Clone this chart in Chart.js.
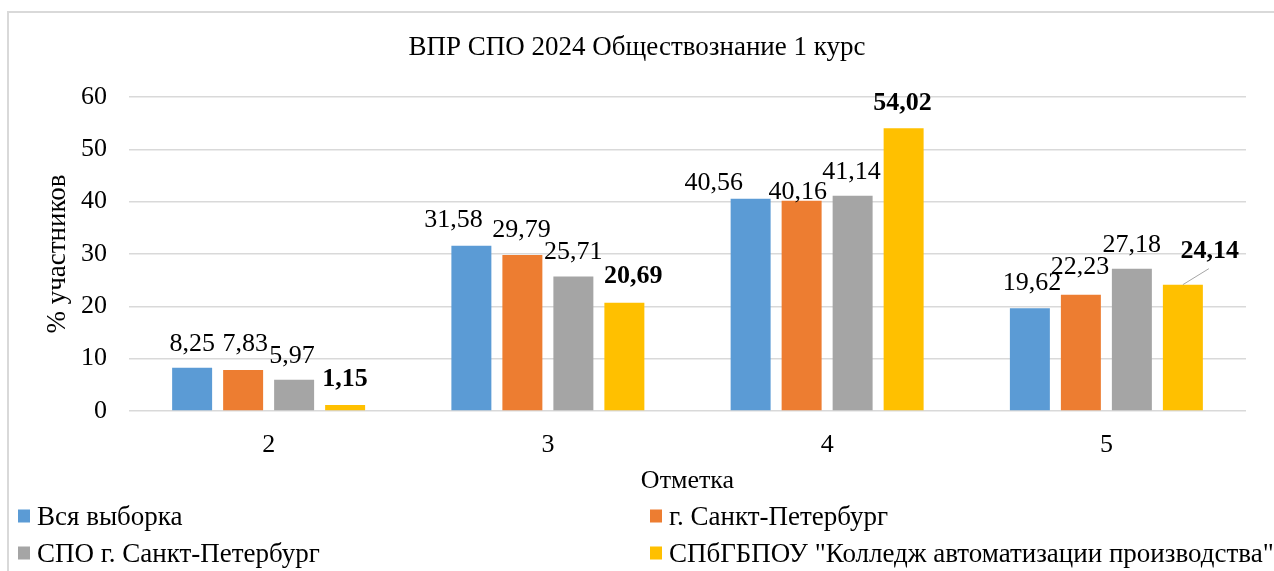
<!DOCTYPE html>
<html><head><meta charset="utf-8">
<script src="https://cdn.jsdelivr.net/npm/chart.js@4.4.1/dist/chart.umd.min.js"></script>
<style>
html,body{margin:0;padding:0;background:#fff;overflow:hidden;}
#wrap{position:relative;width:1274px;height:571px;overflow:hidden;}
#frame{position:absolute;left:7px;top:11px;width:1300px;height:620px;border:2px solid #d9d9d9;box-sizing:border-box;}
canvas{position:absolute;left:0;top:0;}
.leg{position:absolute;font-family:"Liberation Serif",serif;font-size:27px;color:#000;display:flex;align-items:center;white-space:nowrap;line-height:1;transform:translateY(-50%);}
.leg i{display:inline-block;width:12px;height:13px;margin-right:7px;}
</style></head>
<body><div id="wrap"><div id="frame"></div><canvas id="c" width="1274" height="571"></canvas><div id="legend"></div></div>
<script>
// ---- data ----
const categories = ['2', '3', '4', '5'];
const seriesNames = ['Вся выборка', 'г. Санкт-Петербург', 'СПО г. Санкт-Петербург', 'СПбГБПОУ "Колледж автоматизации производства"'];
const allSample = [8.25, 31.58, 40.56, 19.62];
const spbCity = [7.83, 29.79, 40.16, 22.23];
const spoSpb = [5.97, 25.71, 41.14, 27.18];
const college = [1.15, 20.69, 54.02, 24.14];
const yTickValues = [0, 10, 20, 30, 40, 50, 60];
const chartTitle = 'ВПР СПО 2024 Обществознание 1 курс';
const xTitle = 'Отметка';
const yTitle = '% участников';

// ---- styles ----
const colors = ['#5B9BD5', '#ED7D31', '#A5A5A5', '#FFC000'];
const boldSeries = [false, false, false, true];
const FONT = '"Liberation Serif", "Times New Roman", serif';
// label nudges [series][category] -> [dx, dy] in px (manual placements of the original)
const labelNudges = [
  [[0,0],[-18,-2],[-37,8],[2,-1]],
  [[2,-2],[-1,-1],[-4,15],[-1,-3]],
  [[-2,0],[0,0],[-1,0],[0,0]],
  [[0,-2],[9,-2],[-1,-1],[27,-9]]
];
const leaderLines = [[3,3]];

const seriesData = [allSample, spbCity, spoSpb, college];
const fmt = v => v.toFixed(2).replace('.', ',');

const labelPlugin = {
  id: 'barLabels',
  afterDatasetsDraw(chart) {
    const ctx = chart.ctx;
    ctx.save();
    chart.data.datasets.forEach((ds, si) => {
      const meta = chart.getDatasetMeta(si);
      meta.data.forEach((bar, ci) => {
        const [dx, dy] = labelNudges[si][ci];
        const lx = bar.x + dx, ly = bar.y - 24 + dy;
        if (leaderLines.some(([a, b]) => a === si && b === ci)) {
          ctx.strokeStyle = '#A5A5A5';
          ctx.lineWidth = 1;
          ctx.beginPath();
          ctx.moveTo(bar.x, bar.y);
          ctx.lineTo(lx - 1, ly + 17);
          ctx.stroke();
        }
        ctx.font = (boldSeries[si] ? 'bold ' : '') + '26px ' + FONT;
        ctx.fillStyle = '#000';
        ctx.textAlign = 'center';
        ctx.textBaseline = 'middle';
        ctx.fillText(fmt(ds.data[ci]), lx, ly);
      });
    });
    ctx.restore();
  }
};

const LEFT_PAD = 28;
new Chart(document.getElementById('c'), {
  type: 'bar',
  data: {
    labels: categories,
    datasets: seriesData.map((d, i) => ({
      label: seriesNames[i],
      data: d,
      backgroundColor: colors[i],
      borderWidth: 0,
      categoryPercentage: 0.7305,
      barPercentage: 0.784
    }))
  },
  options: {
    responsive: false,
    animation: false,
    devicePixelRatio: 1,
    layout: { padding: { left: LEFT_PAD, right: 28, top: 0, bottom: 70 } },
    plugins: {
      legend: { display: false },
      tooltip: { enabled: false },
      title: {
        display: true, text: chartTitle, color: '#000',
        font: { family: FONT, size: 27, weight: 'normal', lineHeight: 1.2 },
        padding: { top: 31.8, bottom: 32.8 }
      }
    },
    scales: {
      x: {
        grid: { display: false },
        border: { display: false },
        ticks: { color: '#000', font: { family: FONT, size: 26 }, padding: 11 },
        title: { display: true, text: xTitle, color: '#000', font: { family: FONT, size: 26, lineHeight: 1.2 }, padding: { top: 0, bottom: 4.4 } },
        afterFit(s) { s.height = 90; }
      },
      y: {
        min: 0, max: 60,
        afterBuildTicks(s) { s.ticks = yTickValues.map(v => ({ value: v })); },
        grid: { color: '#d9d9d9', lineWidth: 1.6, drawTicks: false },
        border: { display: false },
        ticks: { color: '#000', font: { family: FONT, size: 26 }, padding: 22 },
        title: { display: true, text: yTitle, color: '#000', font: { family: FONT, size: 27, lineHeight: 1.2 }, padding: { top: 13.8, bottom: 0 } },
        afterFit(s) { s.width = 129 - LEFT_PAD; }
      }
    }
  },
  plugins: [labelPlugin]
});

// HTML legend, two columns
const legPos = [[18, 516], [650, 516], [18, 553], [650, 553]];
const legEl = document.getElementById('legend');
seriesNames.forEach((n, i) => {
  const d = document.createElement('div');
  d.className = 'leg';
  d.style.left = legPos[i][0] + 'px';
  d.style.top = legPos[i][1] + 'px';
  const sw = document.createElement('i');
  sw.style.background = colors[i];
  d.appendChild(sw);
  d.appendChild(document.createTextNode(n));
  legEl.appendChild(d);
});
</script>
</body></html>
